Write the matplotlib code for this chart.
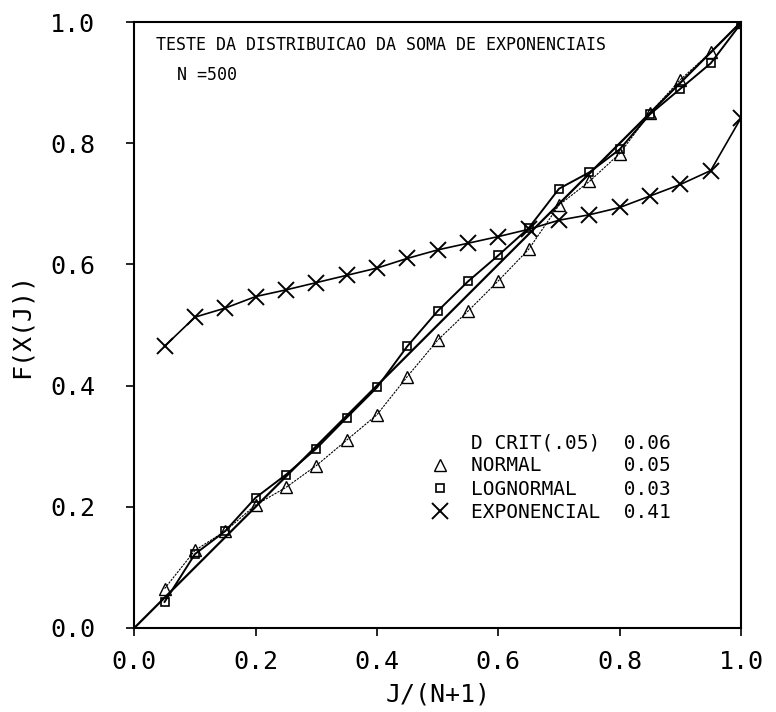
import numpy as np
import matplotlib
matplotlib.use("Agg")
import matplotlib.pyplot as plt
from matplotlib.lines import Line2D

# ── data ──────────────────────────────────────────────────
x_pos = [0.05, 0.10, 0.15, 0.20, 0.25, 0.30, 0.35, 0.40, 0.45, 0.50,
         0.55, 0.60, 0.65, 0.70, 0.75, 0.80, 0.85, 0.90, 0.95, 1.00]

normal = [0.065, 0.128, 0.160, 0.203, 0.232, 0.268, 0.310, 0.352, 0.415, 0.475,
          0.523, 0.573, 0.625, 0.698, 0.737, 0.783, 0.850, 0.905, 0.950, 1.000]

lognormal = [0.043, 0.122, 0.160, 0.215, 0.253, 0.296, 0.347, 0.397, 0.465, 0.523,
             0.572, 0.615, 0.660, 0.725, 0.752, 0.790, 0.848, 0.890, 0.932, 0.998]

exponencial = [0.465, 0.513, 0.528, 0.547, 0.558, 0.570, 0.582, 0.594, 0.610, 0.624,
               0.635, 0.646, 0.658, 0.673, 0.682, 0.694, 0.713, 0.732, 0.755, 0.842]

diag = [0.0, 1.0]

legend_names = ["D CRIT(.05)", "NORMAL", "LOGNORMAL", "EXPONENCIAL"]
legend_vals = ["0.06", "0.05", "0.03", "0.41"]

tick_vals = [0.0, 0.2, 0.4, 0.6, 0.8, 1.0]
tick_labels = ["0.0", "0.2", "0.4", "0.6", "0.8", "1.0"]

title_txt = "TESTE DA DISTRIBUICAO DA SOMA DE EXPONENCIAIS"
n_txt = "N =500"

# ── figure ────────────────────────────────────────────────
plt.rcParams['font.family'] = ['DejaVu Sans Mono', 'DejaVu Sans']

fig = plt.figure(figsize=(7.76, 7.12), dpi=100)
ax = fig.add_axes([0.173, 0.118, 0.782, 0.851])

ax.plot(diag, diag, color="black", lw=1.6)
ax.plot(x_pos, normal, color="black", lw=0.8, ls=(0, (2, 1)),
        marker="^", ms=9, mfc="none", mec="black", mew=1.0)
ax.plot(x_pos, lognormal, color="black", lw=1.4,
        marker="s", ms=6, mfc="none", mec="black", mew=1.2)
ax.plot(x_pos, exponencial, color="black", lw=1.2,
        marker="x", ms=11, mec="black", mew=1.4)

ax.set_xlim(0, 1)
ax.set_ylim(0, 1)
ax.set_xticks(tick_vals)
ax.set_xticklabels(tick_labels)
ax.set_yticks(tick_vals)
ax.set_yticklabels(tick_labels)
ax.tick_params(direction="out", length=6, width=1.2, labelsize=18, pad=10,
               top=False, right=False)
ax.tick_params(axis="y", pad=22)
for s in ax.spines.values():
    s.set_linewidth(1.5)

ax.set_xlabel("J/(N+1)", fontsize=18, labelpad=6)
ax.set_ylabel("F(X(J))", fontsize=18, labelpad=12)

ax.text(0.036, 0.962, title_txt, transform=ax.transAxes, fontsize=12,
        va="center", ha="left")
ax.text(0.07, 0.912, n_txt, transform=ax.transAxes, fontsize=12,
        va="center", ha="left")

# legend: header row without marker, then one row per series
handles = [
    Line2D([], [], ls="none", marker=None),
    Line2D([], [], ls="none", marker="^", ms=9, mfc="none", mec="black"),
    Line2D([], [], ls="none", marker="s", ms=6, mfc="none", mec="black", mew=1.2),
    Line2D([], [], ls="none", marker="x", ms=11, mec="black", mew=1.4),
]
labels = [f"{n:<13}{v}" for n, v in zip(legend_names, legend_vals)]
ax.legend(handles, labels, loc="lower right", bbox_to_anchor=(0.897, 0.162),
          frameon=False, prop={"family": "DejaVu Sans Mono", "size": 14},
          handlelength=1.0, handletextpad=1.1, labelspacing=0.22,
          borderaxespad=0)

fig.savefig("out.png", dpi=100)
